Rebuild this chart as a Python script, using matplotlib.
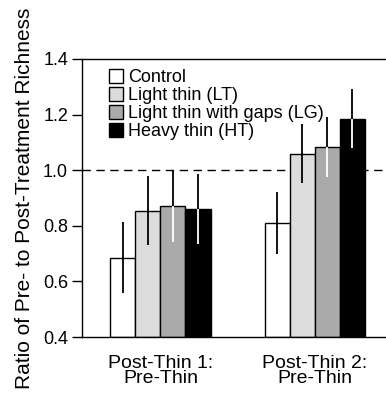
import numpy as np
import matplotlib
matplotlib.use("Agg")
import matplotlib.pyplot as plt

plt.rcParams['font.family'] = ['Liberation Sans', 'DejaVu Sans']

# data
groups = ["Post-Thin 1:\nPre-Thin", "Post-Thin 2:\nPre-Thin"]
treatments = ["Control", "Light thin (LT)", "Light thin with gaps (LG)", "Heavy thin (HT)"]
means = {
    "Control": [0.685, 0.81],
    "Light thin (LT)": [0.855, 1.06],
    "Light thin with gaps (LG)": [0.87, 1.085],
    "Heavy thin (HT)": [0.86, 1.185],
}
errors = {
    "Control": [0.128, 0.11],
    "Light thin (LT)": [0.124, 0.106],
    "Light thin with gaps (LG)": [0.13, 0.108],
    "Heavy thin (HT)": [0.125, 0.106],
}
colors = ["white", "#dcdcdc", "#aaaaaa", "black"]
inner_err = ["black", "black", "white", "white"]

fig = plt.figure(figsize=(3.86, 3.98), dpi=100)
ax = fig.add_axes([82 / 386, 1 - 337 / 398, 1 - 82 / 386, (337 - 59) / 398])

x = np.arange(len(groups))
w = 0.162
for i, t in enumerate(treatments):
    xs = x + (i - 1.5) * w
    m = np.array(means[t])
    e = np.array(errors[t])
    ax.bar(xs, m - 0.4, w, bottom=0.4, color=colors[i], edgecolor="black",
           linewidth=1.0, label=t, zorder=2)
    ax.vlines(xs, m, m + e, color="black", lw=1.3, zorder=3)
    ax.vlines(xs, m - e, m, color=inner_err[i], lw=1.3, zorder=3)

ax.axhline(1.0, color="black", lw=1.0, ls=(0, (6, 4)), zorder=1)

ax.set_xlim(-0.508, 1.46)
ax.set_ylim(0.4, 1.4)
ax.set_yticks([0.4, 0.6, 0.8, 1.0, 1.2, 1.4])
ax.set_yticklabels(["0.4", "0.6", "0.8", "1.0", "1.2", "1.4"])
ax.set_xticks(x)
ax.set_xticklabels(groups, fontsize=14, linespacing=0.85)
ax.tick_params(axis="x", length=0, pad=13)
ax.tick_params(axis="y", labelsize=13, length=7, width=1, direction="out", pad=3)
ax.spines["right"].set_visible(False)
for s in ["left", "top", "bottom"]:
    ax.spines[s].set_linewidth(1.0)

ax.set_ylabel("Ratio of Pre- to Post-Treatment Richness", fontsize=15, labelpad=8)
ax.yaxis.set_label_coords(-48 / 304, 0.5)

ax.legend(loc="upper left", bbox_to_anchor=(109 / 386, 1 - 69 / 398),
          bbox_transform=fig.transFigure, frameon=False, fontsize=13,
          handlelength=0.8, handleheight=0.8, handletextpad=0.25,
          labelspacing=0.05, borderpad=0, borderaxespad=0)

fig.savefig("out.png", dpi=100)
